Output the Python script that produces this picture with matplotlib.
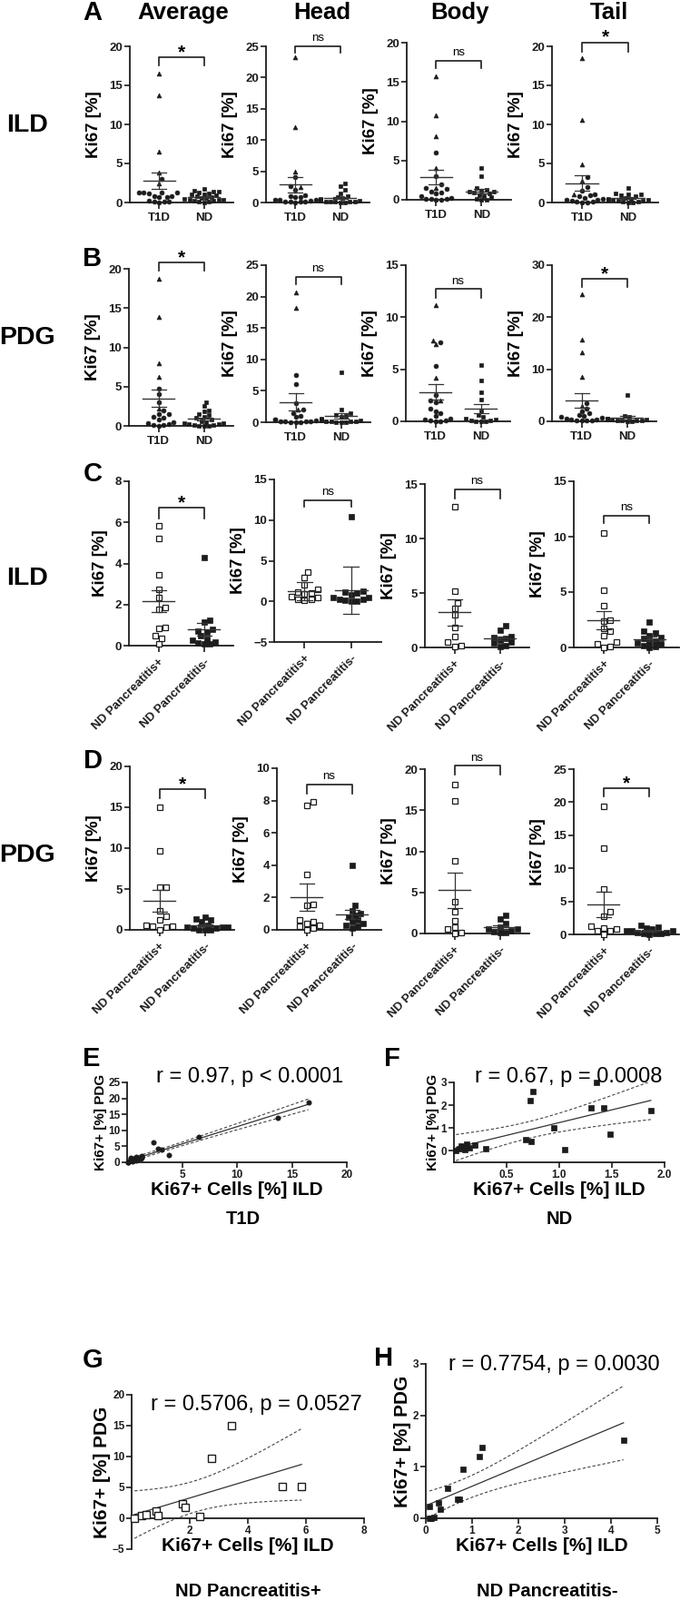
import numpy as np
import matplotlib
matplotlib.use('Agg')
import matplotlib.pyplot as plt

plt.rcParams['font.family'] = ['Liberation Sans', 'DejaVu Sans']

W, H = 749, 1762
INK = '#1c1c1c'

# ---------------- data (Ki67 %) ----------------
cats_ab = ['T1D', 'ND']
cats_cd = ['ND Pancreatitis+', 'ND Pancreatitis-']

# row A : ILD, T1D (triangles / circles) vs ND
ild_avg_tri = [16.5, 13.7, 6.5, 3.8, 2.4]
ild_avg_circ = [3.0, 1.3, 1.3, 1.3, 1.3, 1.2, 0.8, 0.8, 0.7, 0.7, 0.2, 0.1, 0.1, 0.1, 0.05]
ild_avg_nd = [1.8, 1.5, 1.4, 1.4, 1.3, 1.2, 1.1, 1.0, 0.9, 0.8, 0.7, 0.6, 0.6, 0.5, 0.4, 0.3, 0.3, 0.2, 0.2, 0.1, 0.1, 0.05]
ild_head_tri = [23.2, 12.0, 5.0, 2.5]
ild_head_circ = [4.1, 2.6, 2.0, 1.2, 1.0, 0.9, 0.8, 0.5, 0.5, 0.4, 0.3, 0.2, 0.1, 0.1, 0.1, 0.0]
ild_head_nd = [3.0, 2.6, 2.0, 1.5, 1.0, 0.8, 0.7, 0.6, 0.5, 0.5, 0.4, 0.4, 0.3, 0.3, 0.2, 0.2, 0.1, 0.1, 0.1, 0.0, 0.0]
ild_body_tri = [15.7, 10.7, 8.1, 4.0, 1.5]
ild_body_circ = [6.0, 3.0, 2.0, 1.5, 1.4, 1.0, 0.9, 0.8, 0.5, 0.2, 0.1, 0.1, 0.1, 0.0, 0.0]
ild_body_nd = [4.0, 3.0, 1.5, 1.3, 1.2, 1.0, 1.0, 0.9, 0.8, 0.6, 0.5, 0.3, 0.1, 0.0, 0.0]
ild_tail_tri = [18.5, 10.6, 4.9, 2.8, 1.0]
ild_tail_circ = [3.2, 2.0, 1.5, 1.0, 0.9, 0.8, 0.6, 0.5, 0.4, 0.3, 0.2, 0.1, 0.1, 0.0, 0.0]
ild_tail_nd = [1.9, 1.2, 1.1, 1.0, 0.9, 0.8, 0.6, 0.5, 0.5, 0.4, 0.3, 0.3, 0.2, 0.2, 0.1, 0.1, 0.0, 0.0]

# row B : PDG
pdg_avg_tri = [18.7, 13.9, 8.0, 6.2, 2.2]
pdg_avg_circ = [4.7, 4.0, 3.0, 2.0, 1.5, 1.5, 1.2, 1.0, 0.8, 0.5, 0.3, 0.2, 0.1, 0.1, 0.0]
pdg_avg_nd = [3.0, 2.5, 2.0, 1.8, 1.5, 1.4, 1.2, 1.0, 0.8, 0.6, 0.5, 0.4, 0.3, 0.2, 0.2, 0.1, 0.1, 0.0, 0.0, 0.0]
pdg_head_tri = [20.7, 18.2, 2.0]
pdg_head_circ = [7.5, 6.1, 3.0, 2.0, 1.5, 1.0, 0.8, 0.5, 0.5, 0.3, 0.2, 0.2, 0.1, 0.1, 0.0, 0.0, 0.0]
pdg_head_nd = [8.0, 2.0, 1.5, 1.2, 1.0, 0.8, 0.6, 0.5, 0.4, 0.3, 0.3, 0.2, 0.2, 0.1, 0.1, 0.0, 0.0, 0.0]
pdg_body_tri = [11.2, 7.8, 7.4, 4.2, 2.0]
pdg_body_circ = [7.6, 5.3, 2.5, 2.0, 1.8, 1.2, 1.0, 0.8, 0.5, 0.3, 0.2, 0.1, 0.1, 0.0, 0.0]
pdg_body_nd = [5.4, 3.9, 2.8, 2.1, 1.0, 0.6, 0.4, 0.3, 0.2, 0.1, 0.1, 0.0, 0.0, 0.0]
pdg_tail_tri = [24.5, 15.7, 13.3, 8.6, 3.0]
pdg_tail_circ = [3.5, 2.5, 2.0, 1.5, 1.2, 1.0, 0.8, 0.7, 0.5, 0.4, 0.3, 0.2, 0.2, 0.1, 0.1]
pdg_tail_nd = [5.0, 1.0, 0.8, 0.6, 0.5, 0.5, 0.4, 0.3, 0.3, 0.2, 0.2, 0.1, 0.1, 0.0, 0.0]

# row C : ILD, ND pancreatitis+ / -  (average also used for G/H, same donor order)
ild_avg_pos = [0.1, 0.35, 0.5, 0.85, 0.9, 1.75, 1.85, 2.35, 2.75, 3.45, 5.2, 5.85]
ild_avg_neg = [0.08, 0.08, 0.12, 0.18, 0.28, 0.32, 0.47, 0.68, 0.72, 0.8, 1.15, 1.22, 4.27]
ild_head_pos = [3.6, 2.9, 2.0, 1.5, 1.2, 1.0, 0.9, 0.6, 0.5, 0.3, 0.2, 0.1]
ild_head_neg = [10.4, 1.3, 1.2, 1.0, 0.8, 0.5, 0.5, 0.3, 0.2, 0.1, 0.0, 0.0]
ild_body_pos = [12.9, 5.2, 4.1, 3.6, 3.0, 1.8, 1.0, 0.5, 0.2, 0.1]
ild_body_neg = [2.0, 1.6, 1.0, 0.9, 0.8, 0.7, 0.5, 0.4, 0.2, 0.1]
ild_tail_pos = [10.3, 5.2, 3.8, 2.5, 2.4, 1.7, 1.5, 1.1, 0.5, 0.3, 0.1, 0.0]
ild_tail_neg = [2.3, 1.5, 1.3, 1.1, 0.9, 0.8, 0.6, 0.5, 0.4, 0.3, 0.2, 0.1, 0.0]

# row D : PDG
pdg_avg_pos = [0.0, 0.5, 0.6, 1.2, 0.4, 2.3, 1.7, 0.3, 9.7, 15.0, 5.2, 5.2]
pdg_avg_neg = [0.23, 0.0, 0.0, 0.02, 0.3, 0.18, 0.58, 0.37, 0.37, 0.96, 1.2, 1.37, 1.52]
pdg_head_pos = [7.9, 7.7, 3.4, 1.6, 1.5, 0.6, 0.5, 0.4, 0.3, 0.2, 0.1, 0.0]
pdg_head_neg = [4.0, 1.5, 1.2, 1.0, 0.9, 0.8, 0.6, 0.5, 0.4, 0.3, 0.2, 0.1]
pdg_body_pos = [18.1, 16.1, 8.8, 3.9, 2.6, 1.6, 0.8, 0.5, 0.1, 0.0]
pdg_body_neg = [2.2, 1.8, 1.2, 0.8, 0.6, 0.5, 0.3, 0.2, 0.1, 0.1]
pdg_tail_pos = [19.3, 13.0, 6.8, 3.5, 2.8, 1.3, 1.0, 0.8, 0.6, 0.5, 0.0]
pdg_tail_neg = [1.4, 1.1, 0.9, 0.8, 0.6, 0.5, 0.5, 0.3, 0.3, 0.2, 0.1, 0.1, 0.0]

# E / F : ILD vs PDG average per donor
t1d_ild = [16.5, 13.7, 6.5, 3.8, 3.1, 2.4, 2.8, 1.3, 1.3, 1.2, 1.3, 1.0, 0.8, 0.8, 0.6, 0.5, 0.3, 0.2, 0.1, 0.1]
t1d_pdg = [18.8, 14.0, 8.0, 2.2, 3.9, 6.2, 4.2, 1.5, 2.0, 1.0, 1.8, 1.2, 1.6, 0.5, 1.2, 0.3, 1.5, 0.2, 0.1, 0.0]
nd_ild = [0.02, 0.05, 0.07, 0.1, 0.12, 0.15, 0.2, 0.3, 0.68, 0.72, 0.75, 0.73, 0.95, 1.05, 1.3, 1.35, 1.42, 1.48, 1.87]
nd_pdg = [0.0, 0.1, 0.2, 0.05, 0.3, 0.15, 0.25, 0.1, 0.5, 2.2, 2.6, 0.4, 1.0, 0.05, 1.9, 3.0, 1.9, 0.75, 1.75]

corr_labels = ['r = 0.97, p < 0.0001', 'r = 0.67, p = 0.0008',
               'r = 0.5706, p = 0.0527', 'r = 0.7754, p = 0.0030']

fig = plt.figure(figsize=(W / 100, H / 100), dpi=100)


def px_axes(l, t, r, b):
    return fig.add_axes([l / W, 1 - b / H, (r - l) / W, (b - t) / H])


def ftext(x, y, s, **kw):
    fig.text(x / W, 1 - y / H, s, ha='center', va='center', **kw)


def style_axes(ax, tick_fs):
    for side in ['top', 'right']:
        ax.spines[side].set_visible(False)
    for side in ['left', 'bottom']:
        ax.spines[side].set_linewidth(1.3)
        ax.spines[side].set_color(INK)
    ax.tick_params(direction='out', length=4, width=1.2, colors=INK,
                   labelsize=tick_fs, pad=1.5)
    for lab in ax.get_xticklabels() + ax.get_yticklabels():
        lab.set_fontweight('bold')


def swarm_offsets(vals, py, d, xscale=50.0):
    vals = np.asarray(vals, float)
    offs = np.zeros(len(vals))
    steps = [0.0]
    for k in range(1, 9):
        steps += [k * 0.5 * d, -k * 0.5 * d]
    placed = []
    for i in np.argsort(vals, kind='stable'):
        y = vals[i] * py
        x = steps[-1]
        for cand in steps:
            if all((cand - px_) ** 2 + (y - py_) ** 2 >= (0.92 * d) ** 2 for px_, py_ in placed):
                x = cand
                break
        placed.append((x, y))
        offs[i] = x / xscale
    return offs


def dot_panel(rect, groups, ylim, yticks, names, sig, br, legs, err='sem', rot=False):
    ax = px_axes(*rect)
    py = (rect[3] - rect[1]) / (ylim[1] - ylim[0])
    for xi, sets in enumerate(groups):
        allv = np.concatenate([np.asarray(s[0], float) for s in sets])
        d = max(s[3] for s in sets) * 1.39 + 0.8
        offs = swarm_offsets(allv, py, d)
        start = 0
        for vals, mk, filled, ms in sets:
            n = len(vals)
            ax.plot(xi + offs[start:start + n], vals, ls='none', marker=mk, ms=ms,
                    mfc=INK if filled else 'white', mec=INK, mew=0.9 if not filled else 0.5,
                    clip_on=False, zorder=3)
            start += n
        m = allv.mean()
        e = allv.std(ddof=1)
        if err == 'sem':
            e = e / np.sqrt(len(allv))
        lc = '#333333'
        ax.plot([xi - 0.35, xi + 0.35], [m, m], color=lc, lw=1.0, zorder=4, clip_on=False)
        ax.plot([xi, xi], [m - e, m + e], color=lc, lw=0.9, zorder=4, clip_on=False)
        for yy in (m - e, m + e):
            ax.plot([xi - 0.16, xi + 0.16], [yy, yy], color=lc, lw=0.9, zorder=4, clip_on=False)
    ax.set_xlim(-0.65, 1.65)
    ax.set_ylim(*ylim)
    ax.set_yticks(yticks)
    ax.set_xticks([0, 1])
    if rot:
        ax.set_xticklabels(names, rotation=45, ha='right', va='top',
                           rotation_mode='anchor', fontsize=9)
    else:
        ax.set_xticklabels(names, fontsize=9.5)
    style_axes(ax, 9.5)
    ax.tick_params(axis='x', length=5, pad=4 if rot else 3)
    ax.set_ylabel('Ki67 [%]', fontsize=13.5, fontweight='bold', labelpad=6)
    ax.plot([0, 0, 1, 1], [legs, br, br, legs], color=INK, lw=1.2, clip_on=False)
    if sig == '*':
        ax.annotate(sig, xy=(0.5, br), xytext=(0, -3), textcoords='offset points',
                    ha='center', va='bottom', fontsize=15, fontweight='bold',
                    annotation_clip=False)
    else:
        ax.annotate(sig, xy=(0.5, br), xytext=(0, 2), textcoords='offset points',
                    ha='center', va='bottom', fontsize=9.5, annotation_clip=False)
    return ax


def tri_circ_nd(tri, circ, nd):
    return [[(tri, '^', True, 3.5), (circ, 'o', True, 3.5)], [(nd, 's', True, 3.3)]]


def pos_neg(pos, neg):
    return [[(pos, 's', False, 4.5)], [(neg, 's', True, 4.0)]]


# ---------------- rows A-D ----------------
rows = [
    # rect, groups, ylim, yticks, sig, bracket y, leg y, err
    [((143, 51, 257, 223), tri_circ_nd(ild_avg_tri, ild_avg_circ, ild_avg_nd), (0, 20), range(0, 21, 5), '*', 18.6, 17.6, 'sem'),
     ((293, 51, 407, 223), tri_circ_nd(ild_head_tri, ild_head_circ, ild_head_nd), (0, 25), range(0, 26, 5), 'ns', 25.0, 24.0, 'sem'),
     ((448, 47, 563, 220), tri_circ_nd(ild_body_tri, ild_body_circ, ild_body_nd), (0, 20), range(0, 21, 5), 'ns', 17.7, 16.8, 'sem'),
     ((608, 51, 725, 223), tri_circ_nd(ild_tail_tri, ild_tail_circ, ild_tail_nd), (0, 20), range(0, 21, 5), '*', 20.5, 19.3, 'sem')],
    [((142, 296, 257, 469), tri_circ_nd(pdg_avg_tri, pdg_avg_circ, pdg_avg_nd), (0, 20), range(0, 21, 5), '*', 20.8, 19.8, 'sem'),
     ((293, 292, 408, 465), tri_circ_nd(pdg_head_tri, pdg_head_circ, pdg_head_nd), (0, 25), range(0, 26, 5), 'ns', 23.1, 22.0, 'sem'),
     ((447, 292, 562, 464), tri_circ_nd(pdg_body_tri, pdg_body_circ, pdg_body_nd), (0, 15), range(0, 16, 5), 'ns', 12.7, 11.9, 'sem'),
     ((608, 292, 723, 464), tri_circ_nd(pdg_tail_tri, pdg_tail_circ, pdg_tail_nd), (0, 30), range(0, 31, 10), '*', 27.3, 25.9, 'sem')],
    [((142, 530, 257, 711), pos_neg(ild_avg_pos, ild_avg_neg), (0, 8), range(0, 9, 2), '*', 6.7, 6.2, 'sem'),
     ((302, 528, 420, 707), pos_neg(ild_head_pos, ild_head_neg), (-5, 15), range(-5, 16, 5), 'ns', 12.4, 11.6, 'sd'),
     ((468, 533, 583, 713), pos_neg(ild_body_pos, ild_body_neg), (0, 15), range(0, 16, 5), 'ns', 14.5, 13.7, 'sem'),
     ((632, 530, 748, 713), pos_neg(ild_tail_pos, ild_tail_neg), (0, 15), range(0, 16, 5), 'ns', 11.9, 11.2, 'sem')],
    [((143, 844, 258, 1024), pos_neg(pdg_avg_pos, pdg_avg_neg), (0, 20), range(0, 21, 5), '*', 17.2, 16.1, 'sem'),
     ((305, 846, 420, 1024), pos_neg(pdg_head_pos, pdg_head_neg), (0, 10), range(0, 11, 2), 'ns', 9.0, 8.4, 'sem'),
     ((468, 847, 583, 1028), pos_neg(pdg_body_pos, pdg_body_neg), (0, 20), range(0, 21, 5), 'ns', 20.4, 19.3, 'sem'),
     ((632, 847, 748, 1029), pos_neg(pdg_tail_pos, pdg_tail_neg), (0, 25), range(0, 26, 5), '*', 22.1, 20.9, 'sem')],
]

for ri, row in enumerate(rows):
    for rect, groups, ylim, yt, sig, br, legs, err in row:
        dot_panel(rect, groups, ylim, list(yt), cats_ab if ri < 2 else cats_cd,
                  sig, br, legs, err=err, rot=ri >= 2)

# column titles, panel letters, row names
for x, s in zip([202, 355, 507, 671], ['Average', 'Head', 'Body', 'Tail']):
    ftext(x, 14, s, fontsize=18.5, fontweight='bold')
for y, s in zip([14, 285, 522, 838], ['A', 'B', 'C', 'D']):
    ftext(102, y, s, fontsize=21, fontweight='bold')
for y, s in zip([138, 372, 637, 942], ['ILD', 'PDG', 'ILD', 'PDG']):
    ftext(30, y, s, fontsize=20.5, fontweight='bold')


# ---------------- correlations E-H ----------------
def fit_band(x, y):
    x = np.asarray(x, float)
    y = np.asarray(y, float)
    n = len(x)
    b, a = np.polyfit(x, y, 1)
    xs = np.linspace(x.min(), x.max(), 120)
    yhat = a + b * xs
    s = np.sqrt(np.sum((y - (a + b * x)) ** 2) / (n - 2))
    t = 1.96 + 2.4 / (n - 2)
    se = s * np.sqrt(1 / n + (xs - x.mean()) ** 2 / np.sum((x - x.mean()) ** 2))
    return xs, yhat, yhat - t * se, yhat + t * se


def corr_panel(rect, x, y, marker, filled, ms, xlim, ylim, xticks, yticks,
               ylab_fs, zero_axis=False, xfmt=None):
    ax = px_axes(*rect)
    xs, yhat, lo, hi = fit_band(x, y)
    ax.plot(xs, yhat, color='#333333', lw=0.9)
    ax.plot(xs, lo, color='#444444', lw=0.8, ls=(0, (3, 2)))
    ax.plot(xs, hi, color='#444444', lw=0.8, ls=(0, (3, 2)))
    ax.plot(x, y, ls='none', marker=marker, ms=ms, mfc=INK if filled else 'white',
            mec=INK, mew=1.0 if not filled else 0.5, clip_on=False, zorder=3)
    ax.set_xlim(*xlim)
    ax.set_ylim(*ylim)
    ax.set_xticks(xticks)
    ax.set_yticks(yticks)
    if xfmt:
        ax.set_xticklabels([xfmt.format(v) for v in xticks])
    if zero_axis:
        ax.spines['bottom'].set_position(('data', 0))
    style_axes(ax, 8.5)
    ax.set_xlabel('Ki67+ Cells [%] ILD', fontsize=15, fontweight='bold', labelpad=1)
    ax.set_ylabel('Ki67+ [%] PDG', fontsize=ylab_fs, fontweight='bold', labelpad=1)
    return ax


corr_panel((140, 1192, 382, 1280), t1d_ild, t1d_pdg, 'o', True, 3.8,
           (0, 20), (0, 25), [5, 10, 15, 20], [0, 5, 10, 15, 20, 25], 11)
corr_panel((500, 1192, 732, 1280), nd_ild, nd_pdg, 's', True, 3.8,
           (0, 2.0), (-0.5, 3), [0.5, 1.0, 1.5, 2.0], [0, 1, 2, 3], 11, xfmt='{:.1f}')
corr_panel((145, 1536, 401, 1706), ild_avg_pos, pdg_avg_pos, 's', False, 5.2,
           (0, 8), (-5, 20), [2, 4, 6, 8], [-5, 0, 5, 10, 15, 20], 15, zero_axis=True)
corr_panel((469, 1502, 724, 1672), ild_avg_neg, pdg_avg_neg, 's', True, 4.4,
           (0, 5), (0, 3), [0, 1, 2, 3, 4, 5], [0, 1, 2, 3], 15)

for (x, y), s in zip([(275, 1186), (626, 1186), (282, 1547), (610, 1503)], corr_labels):
    ftext(x, y, s, fontsize=17)
for (x, y), s in zip([(101, 1166), (432, 1166), (102, 1498), (423, 1496)], ['E', 'F', 'G', 'H']):
    ftext(x, y, s, fontsize=21, fontweight='bold')
for (x, y), s in zip([(268, 1342), (616, 1342), (273, 1752), (603, 1752)],
                     ['T1D', 'ND', 'ND Pancreatitis+', 'ND Pancreatitis-']):
    ftext(x, y, s, fontsize=14.5, fontweight='bold')

fig.savefig('out.png', dpi=100)
